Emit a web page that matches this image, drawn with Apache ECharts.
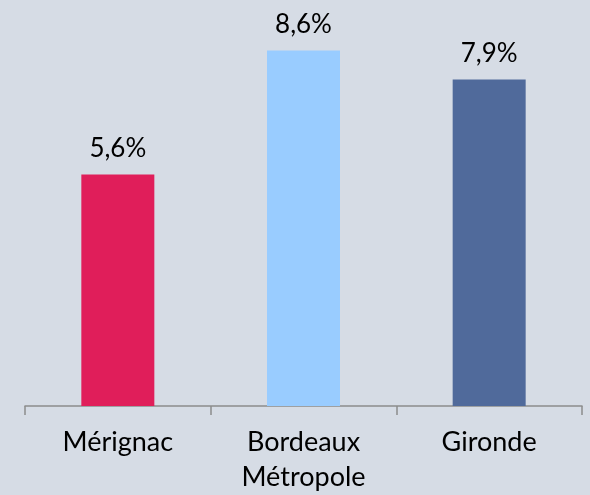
<!DOCTYPE html>
<html>
<head>
<meta charset="utf-8">
<script src="https://cdn.jsdelivr.net/npm/echarts@6/dist/echarts.min.js"></script>
<style>
  html, body { margin: 0; padding: 0; background: #d6dce5; }
  #chart { width: 590px; height: 495px; }
</style>
</head>
<body>
<div id="chart"></div>
<script>
// catégories et valeurs (%)
const categories = ['Mérignac', 'Bordeaux\nMétropole', 'Gironde']
const values = [5.6, 8.6, 7.9]
const barColors = ['#e01e5a', '#99ccff', '#506a9b']

const chart = echarts.init(document.getElementById('chart'))

chart.setOption({
  backgroundColor: '#d6dce5',
  grid: { left: 25, right: 8, top: 34, bottom: 88 },
  xAxis: {
    type: 'category',
    data: categories,
    axisLine: { lineStyle: { color: '#8c8c8c', width: 1.5 } },
    axisTick: { show: true, length: 9, lineStyle: { color: '#8c8c8c', width: 1.5 } },
    axisLabel: {
      color: '#000',
      fontFamily: 'Lato',
      fontSize: 27,
      lineHeight: 35,
      margin: 19
    }
  },
  yAxis: {
    type: 'value',
    min: 0,
    max: 9,
    show: false
  },
  series: [{
    type: 'bar',
    barWidth: 73,
    data: values.map((v, i) => ({ value: v, itemStyle: { color: barColors[i] } })),
    label: {
      show: true,
      position: 'top',
      distance: 13,
      color: '#000',
      fontFamily: 'Lato',
      fontSize: 26,
      formatter: p => String(p.value).replace('.', ',') + '%'
    }
  }]
})
</script>
</body>
</html>
